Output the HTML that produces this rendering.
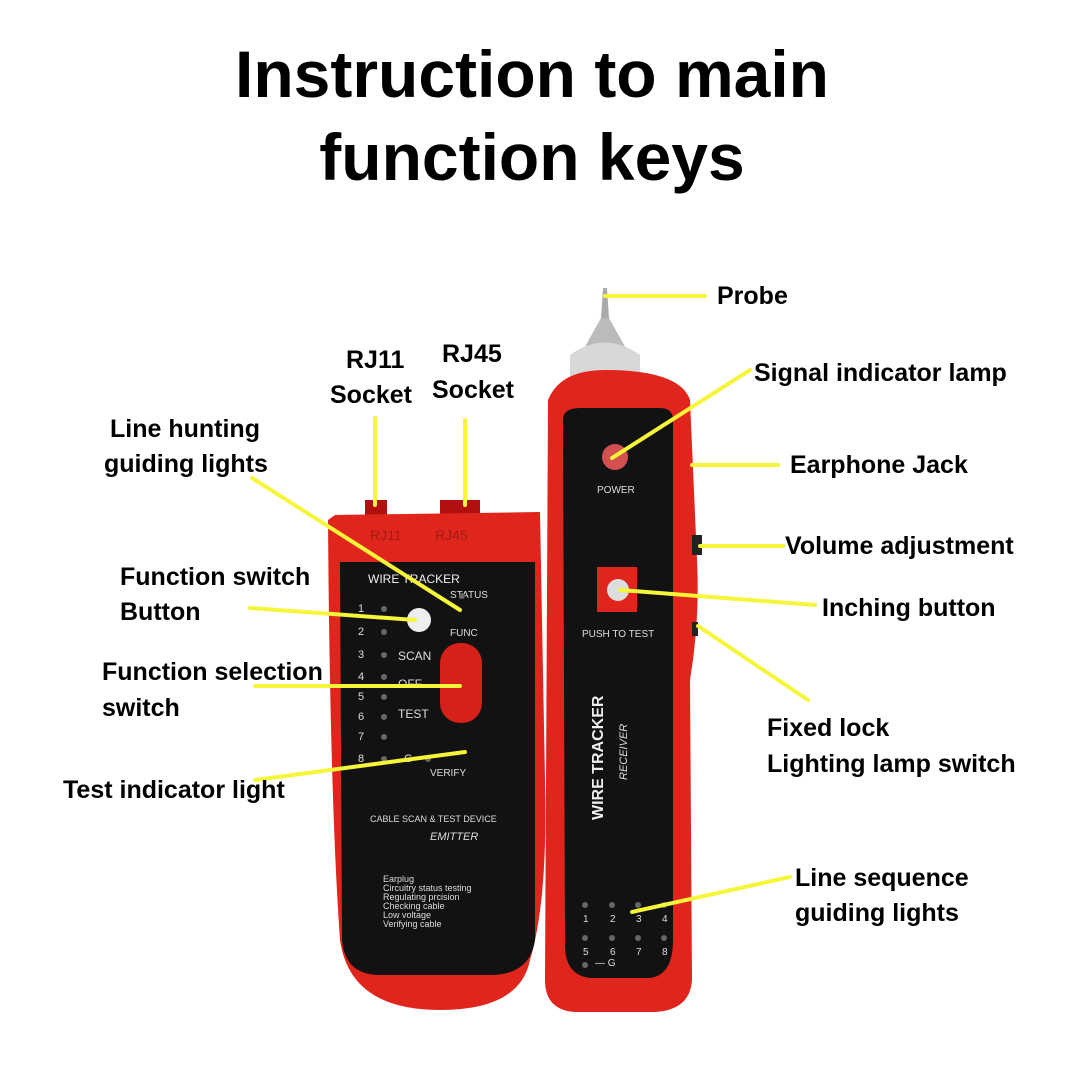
<!DOCTYPE html>
<html><head><meta charset="utf-8"><style>
html,body{margin:0;padding:0;background:#fff}
svg{display:block}
.t{font-family:"Liberation Sans",sans-serif;font-weight:bold;fill:#000}
.s{font-family:"Liberation Sans",sans-serif;fill:#ddd;font-size:10px}
</style></head><body>
<svg width="1072" height="1072" viewBox="0 0 1072 1072">
<text class="t" x="532" y="97" font-size="66" text-anchor="middle">Instruction to main</text>
<text class="t" x="532" y="180" font-size="66" text-anchor="middle">function keys</text>

<!-- emitter -->
<rect x="365" y="500" width="22" height="20" fill="#b01010"/>
<rect x="440" y="500" width="40" height="20" fill="#b01010"/>
<path d="M335 515 L540 512 L545 780 Q548 900 530 960 Q520 1010 440 1010 Q350 1010 340 940 Q330 800 328 520 Z" fill="#e0261c"/>
<text class="s" x="370" y="540" style="fill:#a51a14;font-size:14px">RJ11</text>
<text class="s" x="435" y="540" style="fill:#a51a14;font-size:14px">RJ45</text>
<path d="M340 562 L535 562 L535 940 Q530 975 490 975 L380 975 Q345 975 342 940 Z" fill="#121212"/>
<text class="s" x="368" y="583" style="font-size:12px;fill:#eee">WIRE TRACKER</text>
<text class="s" x="450" y="598">STATUS</text>
<circle cx="419" cy="620" r="12" fill="#eee"/>
<text class="s" x="450" y="636">FUNC</text>
<rect x="440" y="643" width="42" height="80" rx="20" fill="#d6201a"/>
<text class="s" x="398" y="660" style="font-size:12px">SCAN</text>
<text class="s" x="398" y="688" style="font-size:12px">OFF</text>
<text class="s" x="398" y="718" style="font-size:12px">TEST</text>
<g class="s" style="font-size:11px">
<text x="358" y="612">1</text><text x="358" y="635">2</text><text x="358" y="658">3</text><text x="358" y="680">4</text><text x="358" y="700">5</text><text x="358" y="720">6</text><text x="358" y="740">7</text><text x="358" y="762">8</text><text x="404" y="762">G</text></g>
<g fill="#666"><circle cx="384" cy="609" r="3"/><circle cx="384" cy="632" r="3"/><circle cx="384" cy="655" r="3"/><circle cx="384" cy="677" r="3"/><circle cx="384" cy="697" r="3"/><circle cx="384" cy="717" r="3"/><circle cx="384" cy="737" r="3"/><circle cx="384" cy="759" r="3"/><circle cx="428" cy="759" r="3"/><circle cx="462" cy="596" r="3"/></g>
<text class="s" x="430" y="776">VERIFY</text>
<text class="s" x="370" y="822" style="font-size:9px">CABLE SCAN &amp; TEST DEVICE</text>
<text class="s" x="430" y="840" style="font-size:11px;font-style:italic">EMITTER</text>
<g class="s" style="font-size:9px"><text x="383" y="882">Earplug</text><text x="383" y="891">Circuitry status testing</text><text x="383" y="900">Regulating prcision</text><text x="383" y="909">Checking cable</text><text x="383" y="918">Low voltage</text><text x="383" y="927">Verifying cable</text></g>

<!-- receiver -->
<path d="M603 288 L607 288 L609 318 L601 318 Z" fill="#aaa"/>
<path d="M601 318 L609 318 L628 352 L582 352 Z" fill="#bbb"/>
<path d="M570 355 Q605 330 640 355 L640 385 L570 385 Z" fill="#d8d8d8"/>
<path d="M548 400 Q560 370 605 370 Q680 370 690 400 L697 560 Q700 620 690 680 L692 980 Q690 1010 655 1012 L575 1012 Q545 1010 545 980 Z" fill="#e0261c"/>
<path d="M563 420 Q563 408 580 408 L660 408 Q673 408 673 420 L673 940 Q673 975 650 978 L590 978 Q565 975 565 945 Z" fill="#121212"/>
<circle cx="615" cy="457" r="13" fill="#d45050"/>
<text class="s" x="597" y="493">POWER</text>
<rect x="597" y="567" width="40" height="45" fill="#e0261c"/>
<circle cx="618" cy="590" r="11" fill="#ddd"/>
<text class="s" x="582" y="637">PUSH TO TEST</text>
<text class="s" transform="translate(603,820) rotate(-90)" style="font-size:16px;font-weight:bold;fill:#eee">WIRE  TRACKER</text>
<text class="s" transform="translate(627,780) rotate(-90)" style="font-size:11px;font-style:italic">RECEIVER</text>
<g class="s" style="font-size:10px"><text x="583" y="922">1</text><text x="610" y="922">2</text><text x="636" y="922">3</text><text x="662" y="922">4</text><text x="583" y="955">5</text><text x="610" y="955">6</text><text x="636" y="955">7</text><text x="662" y="955">8</text><text x="595" y="966">— G</text></g>
<g fill="#666"><circle cx="585" cy="905" r="3"/><circle cx="612" cy="905" r="3"/><circle cx="638" cy="905" r="3"/><circle cx="664" cy="905" r="3"/><circle cx="585" cy="938" r="3"/><circle cx="612" cy="938" r="3"/><circle cx="638" cy="938" r="3"/><circle cx="664" cy="938" r="3"/><circle cx="585" cy="965" r="3"/></g>
<rect x="692" y="535" width="10" height="20" fill="#222"/>
<rect x="692" y="622" width="6" height="14" fill="#222"/>

<!-- lines -->
<g stroke="#f5f53a" stroke-width="4" fill="none" stroke-linecap="round">
<line x1="375" y1="418" x2="375" y2="505"/>
<line x1="465" y1="420" x2="465" y2="505"/>
<line x1="252" y1="478" x2="460" y2="610"/>
<line x1="250" y1="608" x2="415" y2="620"/>
<line x1="255" y1="686" x2="460" y2="686"/>
<line x1="255" y1="780" x2="465" y2="752"/>
<line x1="605" y1="296" x2="705" y2="296"/>
<line x1="612" y1="458" x2="750" y2="370"/>
<line x1="692" y1="465" x2="778" y2="465"/>
<line x1="700" y1="546" x2="783" y2="546"/>
<line x1="620" y1="590" x2="815" y2="605"/>
<line x1="698" y1="626" x2="808" y2="700"/>
<line x1="632" y1="912" x2="790" y2="877"/>
</g>

<g class="t" font-size="25">
<text x="346" y="368">RJ11</text><text x="330" y="403">Socket</text>
<text x="442" y="362">RJ45</text><text x="432" y="398">Socket</text>
<text x="110" y="437">Line hunting</text><text x="104" y="472">guiding lights</text>
<text x="120" y="585">Function switch</text><text x="120" y="620">Button</text>
<text x="102" y="680">Function selection</text><text x="102" y="716">switch</text>
<text x="63" y="798">Test indicator light</text>
<text x="717" y="304">Probe</text>
<text x="754" y="381">Signal indicator lamp</text>
<text x="790" y="473">Earphone Jack</text>
<text x="785" y="554">Volume adjustment</text>
<text x="822" y="616">Inching button</text>
<text x="767" y="736">Fixed lock</text><text x="767" y="772">Lighting lamp switch</text>
<text x="795" y="886">Line sequence</text><text x="795" y="921">guiding lights</text>
</g>
</svg>
</body></html>
